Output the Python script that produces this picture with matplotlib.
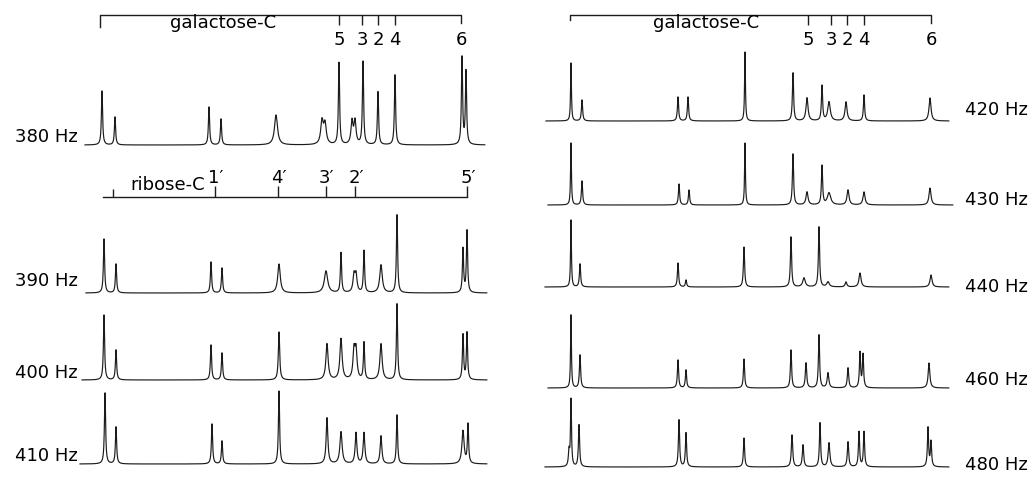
import numpy as np
import matplotlib.pyplot as plt

# ---------- data ----------
# each peak: (position, height above baseline, half-width); positions in panel units
peaks_380 = [(102, 54, .7), (115, 28, .7), (209, 38, .7), (221, 26, .7), (276, 30, 1.8),
             (322, 23, 1.5), (325, 20, 1.5), (339, 82, .7), (352, 23, 1.2), (355, 23, 1.2),
             (363, 83, .7), (378, 53, .7), (395, 70, .7), (462, 87, .7), (466, 73, .7)]
peaks_390 = [(104, 54, .7), (116, 29, .7), (211, 31, .7), (222, 25, .7), (279, 29, 1.5),
             (326, 22, 2.0), (341, 40, .7), (354, 17, 1.2), (356, 17, 1.2), (364, 42, .7),
             (381, 28, 1.5), (397, 78, .7), (463, 44, .7), (467, 62, .7)]
peaks_400 = [(104, 65, .7), (116, 30, .7), (211, 35, .7), (222, 27, .7), (279, 48, .8),
             (327, 36, 1.3), (341, 41, 1.3), (354, 28, 1.2), (356, 28, 1.2), (364, 37, .7),
             (381, 36, 1.3), (397, 76, .7), (463, 45, .7), (467, 47, .7)]
peaks_410 = [(105, 71, .7), (116, 37, .7), (212, 40, .7), (222, 23, .7), (279, 73, .7),
             (327, 46, 1.0), (341, 32, 1.3), (356, 31, 1.0), (364, 31, 1.0), (381, 28, 1.0),
             (397, 49, .7), (463, 33, 1.3), (468, 39, .7)]

peaks_420 = [(55, 58, .5), (66, 21, .7), (162, 24, .7), (172, 24, .7), (229, 69, .5),
             (277, 48, .7), (291, 23, 1.2), (306, 35, .7), (313, 19, 1.5), (330, 19, 1.2),
             (348, 26, .7), (414, 23, 1.2)]
peaks_430 = [(55, 62, .5), (66, 24, .7), (163, 21, .7), (173, 15, .7), (229, 62, .5),
             (277, 51, .7), (291, 13, 1.2), (306, 39, .7), (313, 12, 2.0), (332, 15, 1.2),
             (348, 13, 1.2), (414, 17, 1.2)]
peaks_440 = [(55, 67, .5), (64, 23, .7), (162, 24, .7), (170, 7, .7), (228, 40, .7),
             (275, 50, .7), (288, 9, 1.5), (303, 60, .7), (312, 5, 1.5), (330, 5, 1.0),
             (344, 14, 1.2), (415, 12, 1.2)]
peaks_460 = [(55, 73, .5), (64, 33, .7), (162, 28, .7), (170, 18, .7), (228, 29, .7),
             (275, 38, .7), (290, 25, .8), (303, 53, .7), (312, 15, 1.0), (332, 20, .8),
             (344, 35, .7), (347, 33, .7), (413, 25, 1.0)]
peaks_480 = [(55, 67, .6), (53, 15, .7), (63, 42, .7), (163, 47, .7), (170, 34, .7),
             (228, 29, .7), (276, 32, .8), (287, 22, .8), (304, 44, .7), (313, 24, 1.0),
             (332, 25, .8), (343, 35, .7), (348, 35, .7), (412, 39, .7), (415, 25, .7)]

gal_ticks = ["5", "3", "2", "4", "6"]
gal_pos_left = [339, 362, 378, 395, 461]
gal_pos_right = [292, 315, 331, 348, 415]
rib_ticks = ["", "1\u2032", "4\u2032", "3\u2032", "2\u2032", "5\u2032"]
rib_pos = [113, 215, 278, 326, 355, 467]

# ---------- layout ----------
LINE = "#1c1c1c"
FS = 13

fig = plt.figure(figsize=(10.32, 4.84), dpi=100)
ax_l = fig.add_axes([0, 0, 0.5, 1])
ax_r = fig.add_axes([0.5, 0, 0.5, 1])
for ax in (ax_l, ax_r):
    ax.set_xlim(0, 516)
    ax.set_ylim(484, 0)
    ax.axis("off")


def spectrum(ax, peaks, base, x0, x1):
    x = np.arange(x0, x1, 0.2)
    y = np.zeros_like(x)
    for p, h, w in peaks:
        y += h * w**2 / ((x - p) ** 2 + w**2)
    ax.plot(x, base - y, color=LINE, lw=0.85)


# left panel
left = [(peaks_380, 145, 85, 485, "380 Hz", 137),
        (peaks_390, 293, 86, 487, "390 Hz", 281),
        (peaks_400, 380, 82, 487, "400 Hz", 373),
        (peaks_410, 464, 80, 487, "410 Hz", 456)]
for pk, base, x0, x1, lab, ly in left:
    spectrum(ax_l, pk, base, x0, x1)
    ax_l.text(78, ly, lab, ha="right", va="center", fontsize=FS)

# right panel
right = [(peaks_420, 121, 30, 433, "420 Hz", 110),
         (peaks_430, 205, 32, 437, "430 Hz", 200),
         (peaks_440, 287, 29, 433, "440 Hz", 287),
         (peaks_460, 388, 32, 433, "460 Hz", 380),
         (peaks_480, 467, 29, 433, "480 Hz", 465)]
for pk, base, x0, x1, lab, ly in right:
    spectrum(ax_r, pk, base, x0, x1)
    ax_r.text(449, ly, lab, ha="left", va="center", fontsize=FS)

# galactose brackets
for ax, x0, pos, drop, cx in [(ax_l, 100, gal_pos_left, 27, 223),
                              (ax_r, 54, gal_pos_right, 20, 190)]:
    ax.plot([x0, x0, pos[-1], pos[-1]], [drop, 15, 15, 23], color=LINE, lw=1)
    ax.vlines(pos[:-1], 15, 25, color=LINE, lw=1)
    for t, p in zip(gal_ticks, pos):
        ax.text(p, 40, t, ha="center", va="center", fontsize=FS)
    ax.text(cx, 23, "galactose-C", ha="center", va="center", fontsize=FS)

# ribose bracket
ax_l.plot([103, rib_pos[-1]], [197, 197], color=LINE, lw=1)
ax_l.vlines(rib_pos, [189] + [186] * 5, 197, color=LINE, lw=1)
for t, p in zip(rib_ticks, rib_pos):
    ax_l.text(p + 1, 178, t, ha="center", va="center", fontsize=FS)
ax_l.text(168, 185, "ribose-C", ha="center", va="center", fontsize=FS)

fig.savefig("out.png", dpi=100)
